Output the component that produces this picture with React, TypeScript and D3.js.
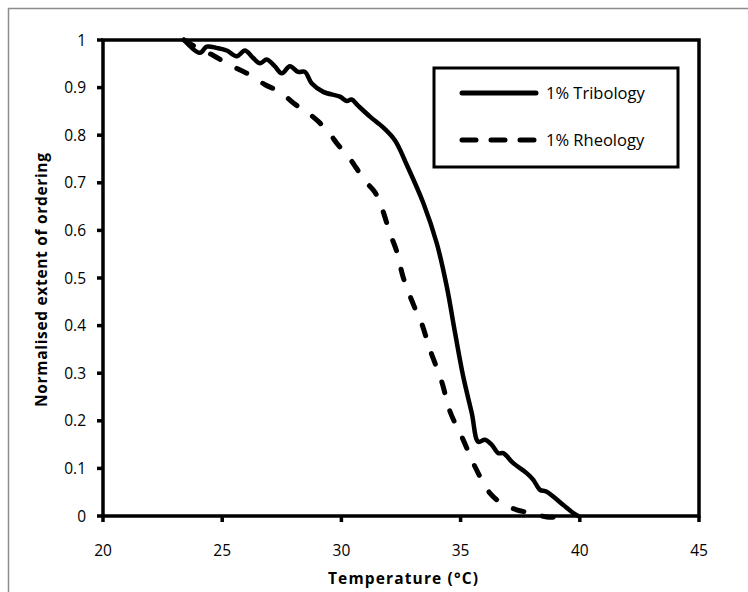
import React from 'react';
import * as d3 from 'd3';

// values
const tribologyTemp = [23.4, 24.07, 24.35, 24.8, 25.19, 25.61, 25.96, 26.3, 26.59, 26.87, 27.2, 27.5, 27.84, 28.18, 28.47, 28.75, 29.24, 29.94, 30.22, 30.43, 30.7, 31.2, 31.76, 32.25, 32.74, 33.44, 34.0, 34.42, 34.77, 35.11, 35.47, 35.74, 36.02, 36.3, 36.58, 36.79, 37.21, 37.77, 38.05, 38.33, 38.61, 39.31, 39.73, 39.93];
const tribologyValue = [1.0, 0.973, 0.986, 0.983, 0.978, 0.966, 0.978, 0.962, 0.951, 0.959, 0.945, 0.93, 0.945, 0.933, 0.933, 0.909, 0.891, 0.881, 0.872, 0.875, 0.862, 0.839, 0.816, 0.789, 0.738, 0.657, 0.573, 0.482, 0.384, 0.293, 0.216, 0.156, 0.16, 0.15, 0.132, 0.132, 0.111, 0.09, 0.076, 0.055, 0.051, 0.023, 0.006, 0.0];

const rheologyTemp = [23.4, 24.0, 24.61, 25.19, 25.75, 26.3, 26.8, 27.43, 28.0, 28.54, 28.96, 29.45, 29.87, 30.29, 30.64, 30.99, 31.41, 31.69, 32.04, 32.32, 32.6, 33.09, 33.37, 33.72, 34.21, 34.56, 35.11, 35.6, 36.23, 36.72, 37.35, 37.98, 38.61, 39.24, 39.59];
const rheologyValue = [1.0, 0.982, 0.968, 0.951, 0.937, 0.923, 0.906, 0.891, 0.867, 0.849, 0.832, 0.807, 0.779, 0.755, 0.73, 0.704, 0.68, 0.648, 0.594, 0.556, 0.5, 0.436, 0.404, 0.349, 0.282, 0.219, 0.16, 0.104, 0.048, 0.027, 0.013, 0.006, -0.002, -0.002, 0.0];

const seriesNames = ['1% Tribology', '1% Rheology'];
const xTicks = [20, 25, 30, 35, 40, 45];
const yTicks = [0, 0.1, 0.2, 0.3, 0.4, 0.5, 0.6, 0.7, 0.8, 0.9, 1];

const W = 748;
const H = 592;
const plot = { left: 103, right: 699, top: 40, bottom: 516 };
const font = '"Open Sans", sans-serif';

const App = () => {
  const x = d3.scaleLinear().domain([20, 45]).range([plot.left, plot.right]);
  const y = d3.scaleLinear().domain([0, 1]).range([plot.bottom, plot.top]);

  const line = d3.line<[number, number]>()
    .x(d => x(d[0]))
    .y(d => y(d[1]))
    .curve(d3.curveCatmullRom.alpha(0.5));

  const tribology = tribologyTemp.map((t, i) => [t, tribologyValue[i]] as [number, number]);
  const rheology = rheologyTemp.map((t, i) => [t, rheologyValue[i]] as [number, number]);

  const dash = '11 19';

  return (
    <svg width={W} height={H} style={{ position: 'absolute', left: 0, top: 0, background: '#fff' }}>
      {/* outer chart frame */}
      <rect x={8.5} y={8.5} width={W + 10} height={H + 10} fill="#fff" stroke="#8c8c8c" strokeWidth={1.5} />

      {/* curves */}
      <path d={line(rheology) || ''} fill="none" stroke="#000" strokeWidth={5} strokeDasharray={dash} strokeLinecap="round" />
      <path d={line(tribology) || ''} fill="none" stroke="#000" strokeWidth={4.5} strokeLinejoin="round" strokeLinecap="round" />

      {/* plot frame */}
      <rect x={plot.left} y={plot.top} width={plot.right - plot.left} height={plot.bottom - plot.top} fill="none" stroke="#000" strokeWidth={3.5} />

      {/* y axis */}
      {yTicks.map(v => (
        <g key={'y' + v}>
          <line x1={plot.left - 6} x2={plot.left} y1={y(v)} y2={y(v)} stroke="#000" strokeWidth={3.5} />
          <text x={plot.left - 17} y={y(v)} dy="0.36em" textAnchor="end" fontFamily={font} fontSize={15.5} fill="#000">
            {String(v)}
          </text>
        </g>
      ))}

      {/* x axis */}
      {xTicks.map(v => (
        <g key={'x' + v}>
          <line x1={x(v)} x2={x(v)} y1={plot.bottom} y2={plot.bottom + 6} stroke="#000" strokeWidth={3.5} />
          <text x={x(v)} y={plot.bottom + 40} textAnchor="middle" fontFamily={font} fontSize={15.5} fill="#000">
            {v}
          </text>
        </g>
      ))}

      <text x={(plot.left + plot.right) / 2 + 2} y={584} textAnchor="middle" fontFamily={font} fontSize={15.5} fontWeight="bold" fill="#000" textLength={150} lengthAdjust="spacing">
        Temperature (°C)
      </text>
      <text transform={`translate(47,${(plot.top + plot.bottom) / 2 + 2}) rotate(-90)`} textAnchor="middle" fontFamily={font} fontSize={15.5} fontWeight="bold" fill="#000" textLength={254} lengthAdjust="spacing">
        Normalised extent of ordering
      </text>

      {/* legend */}
      <rect x={434} y={68} width={244} height={99} fill="#fff" stroke="#000" strokeWidth={3} />
      <line x1={462} x2={536} y1={93} y2={93} stroke="#000" strokeWidth={5} strokeLinecap="round" />
      <text x={546} y={93} dy="0.36em" fontFamily={font} fontSize={16.5} fill="#000">{seriesNames[0]}</text>
      <line x1={462} x2={536} y1={140} y2={140} stroke="#000" strokeWidth={5} strokeLinecap="round" strokeDasharray="14 15" />
      <text x={546} y={140} dy="0.36em" fontFamily={font} fontSize={16.5} fill="#000">{seriesNames[1]}</text>
    </svg>
  );
};

export default App;
